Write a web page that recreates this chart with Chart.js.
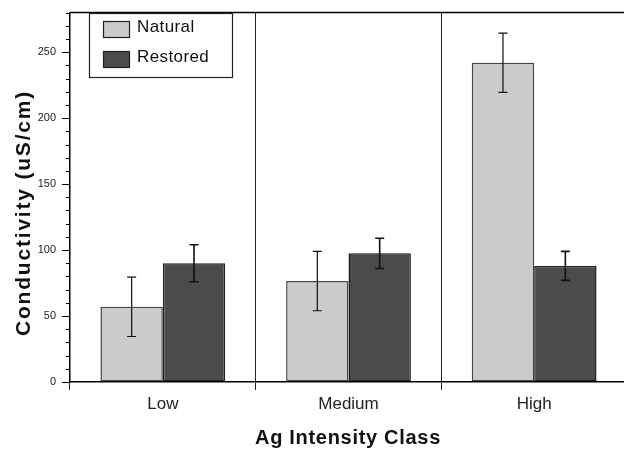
<!DOCTYPE html>
<html>
<head>
<meta charset="utf-8">
<script src="https://cdn.jsdelivr.net/npm/chart.js@4"></script>
<style>
  html, body { margin: 0; padding: 0; background: #fff; overflow: hidden; }
  #wrap { width: 627px; height: 453px; }
</style>
</head>
<body>
<div id="wrap"><canvas id="chart"></canvas></div>
<script>
const categories = ['Low', 'Medium', 'High'];
const naturalMeans = [57, 76.5, 242];
const naturalErr = [22.5, 22.5, 22.5];
const restoredMeans = [90, 97.5, 88];
const restoredErr = [14, 11.5, 11];
const yMajorTicks = [0, 50, 100, 150, 200, 250];
const xTitle = 'Ag Intensity Class';
const yTitle = 'Conductivity (uS/cm)';

const errors = [naturalErr, restoredErr];
const FONT = '"Liberation Sans", Arial, sans-serif';

// error bars, minor ticks, top frame line, axis titles and the boxed legend
const extras = {
    id: 'extras',
    afterDatasetsDraw(chart) {
        const ctx = chart.ctx;
        const y = chart.scales.y;
        const area = chart.chartArea;
        ctx.save();

        chart.data.datasets.forEach((ds, i) => {
            const meta = chart.getDatasetMeta(i);
            meta.data.forEach((bar, j) => {
                const v = ds.data[j];
                const e = errors[i][j];
                const top = y.getPixelForValue(v + e);
                const bot = y.getPixelForValue(v - e);
                ctx.strokeStyle = '#111';
                ctx.lineWidth = i === 0 ? 1.2 : 1.6;
                ctx.beginPath();
                ctx.moveTo(bar.x, top); ctx.lineTo(bar.x, bot);
                ctx.moveTo(bar.x - 4.5, top); ctx.lineTo(bar.x + 4.5, top);
                ctx.moveTo(bar.x - 4.5, bot); ctx.lineTo(bar.x + 4.5, bot);
                ctx.stroke();
            });
        });

        // minor ticks
        ctx.strokeStyle = '#000';
        ctx.lineWidth = 1;
        y.ticks.forEach(t => {
            if (yMajorTicks.includes(t.value)) return;
            const py = Math.round(y.getPixelForValue(t.value)) + 0.5;
            ctx.beginPath();
            ctx.moveTo(area.left - 4, py); ctx.lineTo(area.left, py);
            ctx.stroke();
        });

        // top frame line
        ctx.lineWidth = 1.5;
        ctx.beginPath();
        ctx.moveTo(area.left, area.top); ctx.lineTo(area.right, area.top);
        ctx.stroke();

        // axis titles
        ctx.fillStyle = '#111';
        ctx.textAlign = 'center';
        ctx.textBaseline = 'middle';
        ctx.font = 'bold 20px ' + FONT;
        ctx.letterSpacing = '0.7px';
        ctx.fillText(xTitle, 348, 438);
        ctx.save();
        ctx.translate(24, 213);
        ctx.rotate(-Math.PI / 2);
        ctx.font = 'bold 21px ' + FONT;
        ctx.letterSpacing = '1.8px';
        ctx.fillText(yTitle, 0, 0);
        ctx.restore();
        ctx.letterSpacing = '0px';
        ctx.textAlign = 'left';

        // legend
        const lx = 89, ly = 13, lw = 143, lh = 64;
        ctx.fillStyle = '#fff';
        ctx.fillRect(lx, ly, lw, lh);
        ctx.strokeStyle = '#222';
        ctx.lineWidth = 1.2;
        ctx.strokeRect(lx + 0.5, ly + 0.5, lw, lh);
        chart.data.datasets.forEach((ds, i) => {
            const sy = 21 + i * 30;
            ctx.fillStyle = ds.backgroundColor;
            ctx.fillRect(103, sy, 26, 16);
            ctx.strokeStyle = '#222';
            ctx.lineWidth = 1.2;
            ctx.strokeRect(103.5, sy + 0.5, 26, 16);
            ctx.fillStyle = '#111';
            ctx.font = '17px ' + FONT;
            ctx.letterSpacing = '0.4px';
            ctx.textBaseline = 'middle';
            ctx.fillText(ds.label, 137, sy + 6);
        });

        ctx.restore();
    }
};

new Chart(document.getElementById('chart'), {
    type: 'bar',
    data: {
        labels: categories,
        datasets: [
            {
                label: 'Natural',
                data: naturalMeans,
                backgroundColor: '#cbcbcb',
                borderColor: '#444',
                borderWidth: 1.5,
                borderSkipped: false
            },
            {
                label: 'Restored',
                data: restoredMeans,
                backgroundColor: '#4b4b4b',
                borderColor: '#1e1e1e',
                borderWidth: 1.5,
                borderSkipped: false
            }
        ]
    },
    options: {
        responsive: true,
        maintainAspectRatio: false,
        animation: false,
        layout: { padding: { top: 7, left: 0, right: 0, bottom: 0 } },
        plugins: {
            legend: { display: false },
            tooltip: { enabled: false }
        },
        datasets: {
            bar: { categoryPercentage: 0.672, barPercentage: 1 }
        },
        scales: {
            x: {
                grid: {
                    offset: true,
                    color: '#222',
                    lineWidth: 1,
                    tickLength: 8
                },
                border: { color: '#000', width: 1.5 },
                ticks: {
                    color: '#222',
                    padding: 4,
                    font: { family: FONT, size: 17 }
                },
                afterFit(scale) { scale.height = 71; }
            },
            y: {
                min: 0,
                max: 280,
                grid: {
                    drawOnChartArea: false,
                    drawTicks: true,
                    tickLength: 8,
                    color: ctx => yMajorTicks.includes(ctx.tick.value) ? '#000' : 'rgba(0,0,0,0)'
                },
                border: { color: '#000', width: 1.5 },
                ticks: {
                    stepSize: 10,
                    autoSkip: false,
                    padding: 6,
                    color: '#222',
                    font: { family: FONT, size: 11 },
                    callback: v => yMajorTicks.includes(v) ? String(v) : ''
                },
                afterFit(scale) { scale.width = 70; }
            }
        }
    },
    plugins: [extras]
});
</script>
</body>
</html>
